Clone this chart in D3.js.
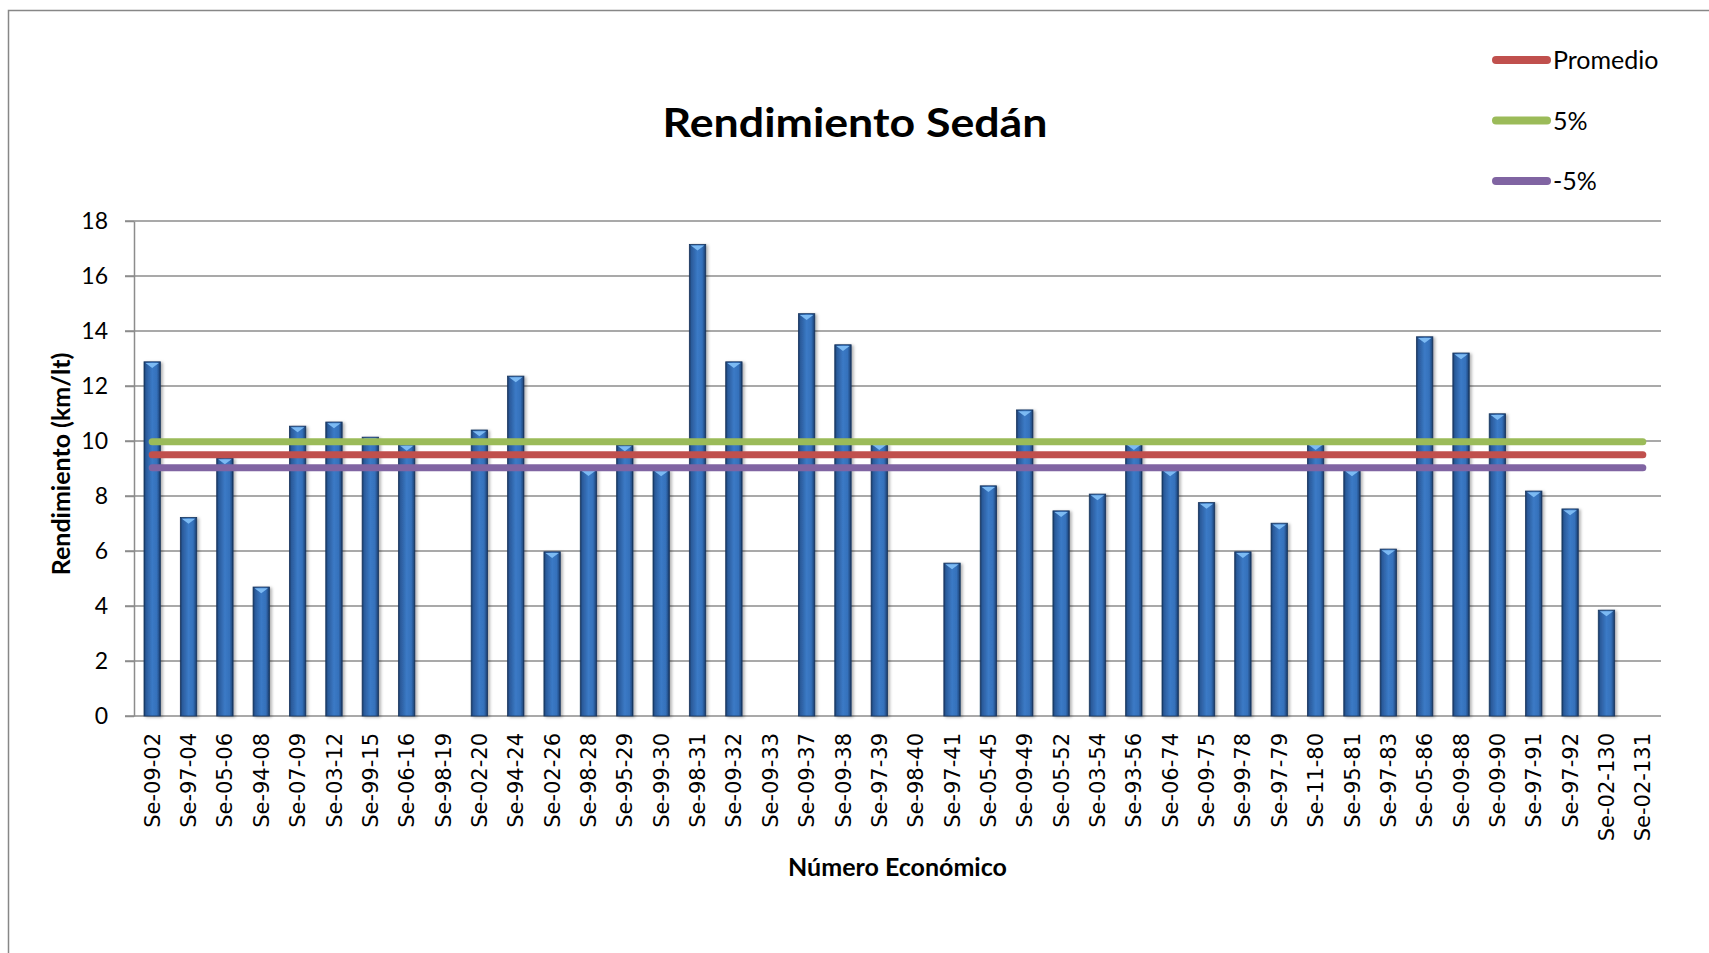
<!DOCTYPE html>
<html>
<head>
<meta charset="utf-8">
<script src="https://cdn.jsdelivr.net/npm/d3@7.9.0/dist/d3.min.js"></script>
<style>
  html, body { margin: 0; padding: 0; background: #fff; }
  svg { display: block; }
  text { fill: #000; }
</style>
</head>
<body>
<svg id="chart" width="1709" height="953"></svg>
<script>
// --- data ---
const categories = [
  'Se-09-02', 'Se-97-04', 'Se-05-06', 'Se-94-08', 'Se-07-09', 'Se-03-12', 'Se-99-15',
  'Se-06-16', 'Se-98-19', 'Se-02-20', 'Se-94-24', 'Se-02-26', 'Se-98-28', 'Se-95-29',
  'Se-99-30', 'Se-98-31', 'Se-09-32', 'Se-09-33', 'Se-09-37', 'Se-09-38', 'Se-97-39',
  'Se-98-40', 'Se-97-41', 'Se-05-45', 'Se-09-49', 'Se-05-52', 'Se-03-54', 'Se-93-56',
  'Se-06-74', 'Se-09-75', 'Se-99-78', 'Se-97-79', 'Se-11-80', 'Se-95-81', 'Se-97-83',
  'Se-05-86', 'Se-09-88', 'Se-09-90', 'Se-97-91', 'Se-97-92', 'Se-02-130', 'Se-02-131'
];
const rendimiento = [
  12.88, 7.22, 9.38, 4.69, 10.54, 10.69, 10.14,
  9.87, 0, 10.40, 12.36, 5.97, 8.95, 9.85,
  8.94, 17.15, 12.88, 0, 14.63, 13.50, 9.90,
  0, 5.56, 8.37, 11.13, 7.46, 8.07, 9.90,
  8.94, 7.76, 5.97, 7.01, 9.90, 8.94, 6.07,
  13.79, 13.20, 10.99, 8.18, 7.53, 3.85, 0
];
const refNames = ['Promedio', '5%', '-5%'];
const refValues = [9.5, 9.975, 9.025];
const refColors = ['#c0504d', '#9bbb59', '#8064a2'];
const yTicks = [0, 2, 4, 6, 8, 10, 12, 14, 16, 18];

const titleText = 'Rendimiento Sedán';
const yTitle = 'Rendimiento (km/lt)';
const xTitle = 'Número Económico';

// --- layout ---
const plot = { left: 134, right: 1661, top: 221, bottom: 716 };
const svg = d3.select('#chart');

const x = d3.scaleBand()
  .domain(categories)
  .range([plot.left, plot.right])
  .paddingInner(0.55)
  .paddingOuter(0.275);
const y = d3.scaleLinear().domain([0, 18]).range([plot.bottom, plot.top]);

// defs: bar gradient + soft shadow
const defs = svg.append('defs');
const grad = defs.append('linearGradient').attr('id', 'barGrad')
  .attr('x1', 0).attr('x2', 1).attr('y1', 0).attr('y2', 0);
[[0, '#17355f'], [0.12, '#2a5a9a'], [0.5, '#3b7ac6'], [0.78, '#3571bb'], [0.92, '#24508a'], [1, '#142e55']]
  .forEach(([o, c]) => grad.append('stop').attr('offset', o).attr('stop-color', c));
defs.append('filter').attr('id', 'shadow')
  .attr('x', '-30%').attr('y', '-5%').attr('width', '170%').attr('height', '110%')
  .append('feDropShadow')
  .attr('dx', 2).attr('dy', 1).attr('stdDeviation', 1.6)
  .attr('flood-color', '#000').attr('flood-opacity', 0.3);

// chart area border
svg.append('rect')
  .attr('x', 8.5).attr('y', 10.5).attr('width', 1760).attr('height', 1000)
  .attr('fill', 'none').attr('stroke', '#878787').attr('stroke-width', 1.5);

// gridlines
svg.append('g').selectAll('line').data(yTicks).join('line')
  .attr('x1', plot.left - 9).attr('x2', plot.right)
  .attr('y1', d => y(d)).attr('y2', d => y(d))
  .attr('stroke', '#8c8c8c').attr('stroke-width', 1.5);

// y axis
const yAxis = svg.append('g')
  .attr('transform', `translate(${plot.left},0)`)
  .call(d3.axisLeft(y).tickValues(yTicks).tickSizeInner(9).tickSizeOuter(0).tickPadding(17));
yAxis.select('.domain').attr('stroke', '#8c8c8c').attr('stroke-width', 1.5);
yAxis.selectAll('.tick line').attr('stroke', '#8c8c8c').attr('stroke-width', 1.5);
yAxis.selectAll('.tick text')
  .attr('font-family', 'Lato, sans-serif').attr('font-size', 23).attr('fill', '#000');

// bars
const barData = categories.map((c, i) => ({ cat: c, v: rendimiento[i] })).filter(d => d.v > 0);
const bars = svg.append('g');
bars.selectAll('rect.bar').data(barData).join('rect')
  .attr('class', 'bar')
  .attr('x', d => x(d.cat))
  .attr('y', d => y(d.v))
  .attr('width', x.bandwidth())
  .attr('height', d => y(0) - y(d.v))
  .attr('fill', 'url(#barGrad)')
  .attr('stroke', '#18365f').attr('stroke-width', 0.8)
  .attr('filter', 'url(#shadow)');
// little bevel triangle at the top of each bar
bars.selectAll('path.bevel').data(barData).join('path')
  .attr('class', 'bevel')
  .attr('d', d => {
    const x0 = x(d.cat) + 1.5, x1 = x(d.cat) + x.bandwidth() - 1.5;
    const yt = y(d.v) + 1.2;
    return `M${x0},${yt}H${x1}L${(x0 + x1) / 2},${yt + 5}Z`;
  })
  .attr('fill', '#7cbaf3');

// reference lines (Promedio, 5%, -5%)
const line = d3.line().x(d => x(d) + x.bandwidth() / 2);
refValues.forEach((v, k) => {
  svg.append('path')
    .datum(categories)
    .attr('d', line.y(() => y(v)))
    .attr('fill', 'none')
    .attr('stroke', refColors[k])
    .attr('stroke-width', 7)
    .attr('stroke-linecap', 'round');
});

// category labels
svg.append('g').selectAll('text').data(categories).join('text')
  .attr('transform', d => `translate(${x(d) + x.bandwidth() / 2},${plot.bottom + 17}) rotate(-90)`)
  .attr('text-anchor', 'end')
  .attr('dy', '0.36em')
  .attr('font-family', '"DejaVu Sans", sans-serif')
  .attr('font-size', 21)
  .text(d => d);

// title
svg.append('text')
  .attr('x', 855).attr('y', 137)
  .attr('text-anchor', 'middle')
  .attr('font-family', 'Lato, sans-serif').attr('font-weight', 'bold')
  .attr('font-size', 40)
  .attr('textLength', 385).attr('lengthAdjust', 'spacingAndGlyphs')
  .text(titleText);

// axis titles
svg.append('text')
  .attr('transform', 'translate(70,464) rotate(-90)')
  .attr('text-anchor', 'middle')
  .attr('font-family', 'Lato, sans-serif').attr('font-weight', 'bold')
  .attr('font-size', 25)
  .text(yTitle);
svg.append('text')
  .attr('x', (plot.left + plot.right) / 2).attr('y', 876)
  .attr('text-anchor', 'middle')
  .attr('font-family', 'Lato, sans-serif').attr('font-weight', 'bold')
  .attr('font-size', 25)
  .text(xTitle);

// legend
const legend = svg.append('g').attr('transform', 'translate(1496,60)');
const legendItems = [0, 1, 2].map(i => ({ name: refNames[i], color: refColors[i] }));
legendItems.forEach((d, i) => {
  const g = legend.append('g').attr('transform', `translate(0,${i * 60.5})`);
  g.append('line')
    .attr('x1', 0).attr('x2', 51)
    .attr('stroke', d.color).attr('stroke-width', 8).attr('stroke-linecap', 'round');
  g.append('text')
    .attr('x', 57).attr('y', 9)
    .attr('font-family', 'Lato, sans-serif').attr('font-size', 25)
    .text(d.name);
});
</script>
</body>
</html>
